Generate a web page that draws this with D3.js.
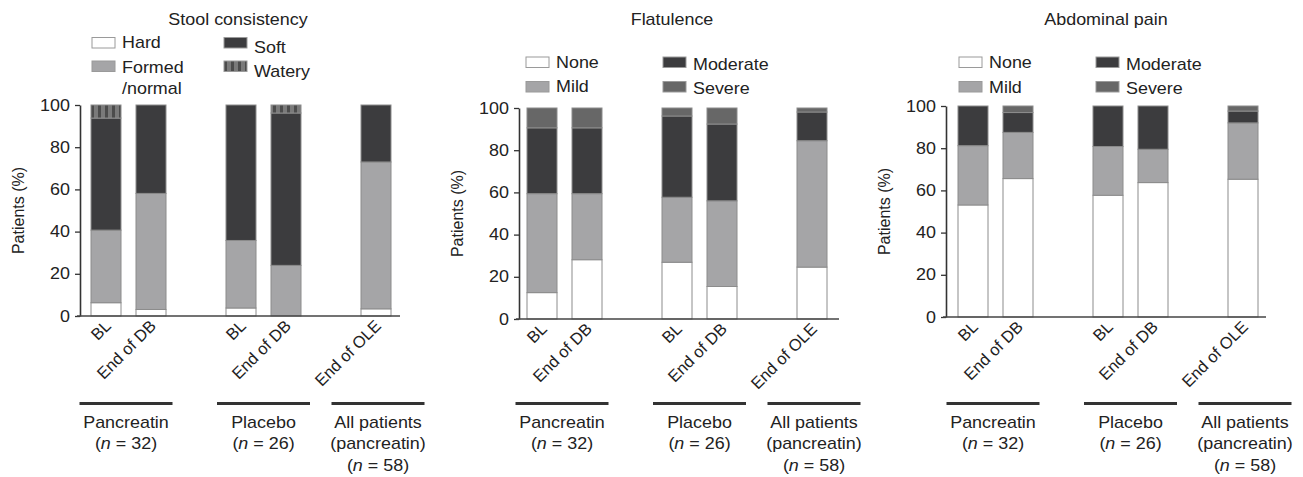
<!DOCTYPE html>
<html><head><meta charset="utf-8">
<script src="https://cdn.jsdelivr.net/npm/d3@7"></script>
<style>
body{margin:0;background:#fff;}
svg{display:block;font-family:"Liberation Sans",Arial,Helvetica,sans-serif;}
</style></head><body>
<svg id="chart" width="1303" height="477"></svg>
<script>
// ---------- data ----------
const timepoints = ["BL","End of DB","BL","End of DB","End of OLE"];
const barGroups  = ["Pancreatin","Pancreatin","Placebo","Placebo","All"];
const groupNames = [["Pancreatin"],["Placebo"],["All patients","(pancreatin)"]];
const groupN     = [32, 26, 58];
const yTicks     = [0, 20, 40, 60, 80, 100];
const panelTitles = ["Stool consistency","Flatulence","Abdominal pain"];
const stoolCategories    = ["Hard","Formed\n/normal","Soft","Watery"];
const severityCategories = ["None","Mild","Moderate","Severe"];

// Stool consistency (% of patients per bar)
const stoolHard   = [6.3, 3.1, 3.8, 0.0, 3.4];
const stoolFormed = [34.4, 55.0, 32.0, 24.0, 69.6];
const stoolSoft   = [53.1, 41.9, 64.2, 72.2, 27.0];
const stoolWatery = [6.2, 0.0, 0.0, 3.8, 0.0];
// Flatulence
const flatNone     = [12.5, 28.1, 26.9, 15.4, 24.6];
const flatMild     = [46.9, 31.3, 30.8, 40.6, 59.9];
const flatModerate = [31.2, 31.2, 38.5, 36.4, 13.6];
const flatSevere   = [9.4, 9.4, 3.8, 7.6, 1.9];
// Abdominal pain
const painNone     = [53.1, 65.6, 57.7, 63.7, 65.3];
const painMild     = [28.1, 21.9, 23.1, 15.8, 26.7];
const painModerate = [18.8, 9.4, 19.2, 20.5, 5.6];
const painSevere   = [0.0, 3.1, 0.0, 0.0, 2.4];

// ---------- assembly ----------
const panels = [
  {title: panelTitles[0], cats: stoolCategories, series: [stoolHard, stoolFormed, stoolSoft, stoolWatery], fourth: "url(#watery)"},
  {title: panelTitles[1], cats: severityCategories, series: [flatNone, flatMild, flatModerate, flatSevere], fourth: "#676767"},
  {title: panelTitles[2], cats: severityCategories, series: [painNone, painMild, painModerate, painSevere], fourth: "#676767"}
];
const layout = [
  {axisX: 80,  firstBar: 106, yTop: 105, yBot: 316, titleX: 238,
   leg: {c1: 92, c2: 224, boxY: [37.5, 61], txtY: [[48, 73], [53, 77]]}},
  {axisX: 519, firstBar: 542, yTop: 108, yBot: 319, titleX: 672,
   leg: {c1: 526, c2: 663, boxY: [57, 81.5], txtY: [[68, 92], [70, 94]]}},
  {axisX: 946, firstBar: 973, yTop: 106, yBot: 317, titleX: 1106,
   leg: {c1: 959, c2: 1096, boxY: [57, 81.5], txtY: [[68, 93], [69.5, 94]]}}
];
const groupOffsets = [-2.5, 0, 2];
const SX = 1.12; // horizontal text stretch
const svg = d3.select("#chart");
const defs = svg.append("defs");
const pat = defs.append("pattern").attr("id","watery").attr("patternUnits","userSpaceOnUse")
  .attr("width",7).attr("height",10);
pat.append("rect").attr("width",7).attr("height",10).attr("fill","#7a7a7a");
pat.append("rect").attr("width",3).attr("height",10).attr("fill","#4c4c4c");

function fillFor(p, i){ return i===0 ? "#ffffff" : i===1 ? "#a5a5a7" : i===2 ? "#3c3c3e" : panels[p].fourth; }
function stext(g, x, y, str, anchor, size){
  return g.append("text").attr("transform",`translate(${x},${y}) scale(${SX},1)`)
    .attr("text-anchor", anchor||"start").attr("font-size", size||16).attr("fill","#222").text(str);
}

const slots = [];
timepoints.forEach((t,i)=>{ if(i>0 && barGroups[i]!==barGroups[i-1]) slots.push("gap"+i); slots.push("bar"+i); });

panels.forEach((P, p) => {
  const L = layout[p];
  const g = svg.append("g");
  const x = d3.scaleBand().domain(slots)
    .range([L.firstBar-22.5, L.firstBar-22.5 + slots.length*45])
    .paddingInner(1/3).paddingOuter(1/6);
  const y = d3.scaleLinear().domain([0,100]).range([L.yBot, L.yTop]);

  const keys = P.cats.map((c,i)=>"k"+i);
  const rows = timepoints.map((t,j)=>{ const r={slot:"bar"+j}; P.series.forEach((s,i)=>r["k"+i]=s[j]); return r; });
  const stacked = d3.stack().keys(keys)(rows);

  // title
  stext(g, L.titleX, 25, P.title, "middle", 16);

  // legend
  P.cats.forEach((c,i)=>{
    const col = i<2 ? 0 : 1, row = i%2;
    const bx = col===0 ? L.leg.c1 : L.leg.c2;
    g.append("rect").attr("x",bx).attr("y",L.leg.boxY[row]).attr("width",23).attr("height",10.5)
      .attr("fill",fillFor(p,i)).attr("stroke","#9a9a9a").attr("stroke-width",1);
    const lines = c.split("\n");
    lines.forEach((ln,k)=> stext(g, bx+30, L.leg.txtY[col][row] + k*21, ln, "start", 16));
  });

  // bars
  stacked.forEach((layer,i)=>{
    g.append("g").selectAll("rect").data(layer.filter(d=>d[1]-d[0]>0)).join("rect")
      .attr("x", d=>x(d.data.slot)).attr("width", x.bandwidth())
      .attr("y", d=>y(d[1])).attr("height", d=>y(d[0])-y(d[1]))
      .attr("fill", fillFor(p,i)).attr("stroke","#8c8c8c").attr("stroke-width",1);
  });

  // y axis
  const ya = g.append("g").attr("transform",`translate(${L.axisX},0)`)
    .call(d3.axisLeft(y).tickValues(yTicks).tickSize(5).tickSizeOuter(0).tickPadding(4));
  ya.select(".domain").attr("stroke","#333").attr("stroke-width",1.6);
  ya.selectAll(".tick line").attr("stroke","#333").attr("stroke-width",1.3);
  ya.selectAll(".tick text").attr("font-size",16).attr("fill","#222")
    .attr("font-family","Liberation Sans, Arial, sans-serif")
    .attr("transform",`scale(${SX},1)`);
  // x axis line
  g.append("line").attr("x1",L.axisX-3).attr("x2",L.axisX+320).attr("y1",y(0)).attr("y2",y(0))
    .attr("stroke","#444").attr("stroke-width",1.6);

  // y label
  g.append("text").attr("transform",`translate(${L.axisX-56},${(L.yTop+L.yBot)/2}) rotate(-90)`)
    .attr("text-anchor","middle").attr("font-size",16).attr("fill","#222").text("Patients (%)");

  // rotated x labels
  timepoints.forEach((t,j)=>{
    const cx = x("bar"+j) + x.bandwidth()/2;
    g.append("text").attr("transform",`translate(${cx+6},${L.yBot+11}) rotate(-45)`)
      .attr("text-anchor","end").attr("font-size",16.5).attr("fill","#222").text(t);
  });

  // group lines & labels
  const gnames = Array.from(new Set(barGroups));
  gnames.forEach((gn,k)=>{
    const idx = barGroups.map((b,j)=>b===gn?j:-1).filter(j=>j>=0);
    const left = x("bar"+idx[0]), right = x("bar"+idx[idx.length-1]) + x.bandwidth();
    const c = (left+right)/2 + groupOffsets[k];
    g.append("line").attr("x1",c-46.5).attr("x2",c+46.5).attr("y1",403.5).attr("y2",403.5)
      .attr("stroke","#333").attr("stroke-width",3);
    const nameLines = groupNames[k];
    nameLines.forEach((ln,m)=> stext(g, c, 427.5 + m*21.5, ln, "middle", 16));
    const t = stext(g, c, 427.5 + nameLines.length*21.5, "", "middle", 16);
    t.append("tspan").text("(");
    t.append("tspan").attr("font-style","italic").text("n");
    t.append("tspan").text(" = " + groupN[k] + ")");
  });
});
</script>
</body></html>
